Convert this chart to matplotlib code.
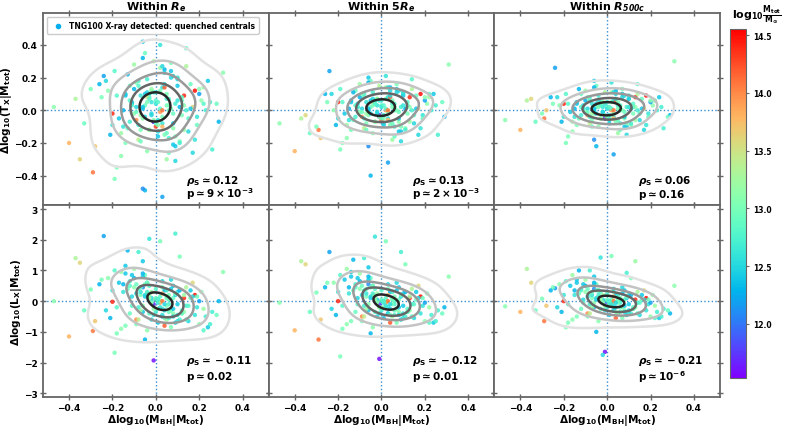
import numpy as np
import matplotlib.pyplot as plt
from matplotlib import colors, cm

plt.rcParams['font.family'] = ['DejaVu Sans']
plt.rcParams['font.weight'] = 'bold'
plt.rcParams['axes.labelweight'] = 'bold'
plt.rcParams['axes.titleweight'] = 'bold'
plt.rcParams['mathtext.fontset'] = 'dejavusans'

# residual of BH mass at fixed total mass (same galaxies in every panel)
dm_bh = [
    -0.47, -0.40, -0.29, -0.37, -0.28, -0.24, -0.22, -0.20, -0.30, -0.33,
    0.31, 0.29, 0.13, 0.18, 0.03, -0.05, -0.06, -0.19, -0.01, 0.22,
    -0.15, -0.12, -0.10, -0.17, -0.14, -0.11, -0.18, -0.16, -0.13, -0.09,
    -0.08, -0.07, -0.06, -0.05, -0.04, -0.03, -0.02, -0.01, 0.00, 0.01,
    0.02, 0.03, 0.04, 0.05, 0.06, 0.07, 0.08, 0.09, 0.10, 0.11,
    0.12, 0.14, 0.15, 0.16, 0.19, 0.21, 0.24, 0.26, 0.17, 0.20,
    -0.09, -0.06, -0.03, 0.00, 0.03, 0.06, 0.09, -0.05, 0.02, 0.05,
    -0.07, -0.04, -0.01, 0.02, 0.04, 0.07, -0.02, 0.01, 0.08, -0.10,
    -0.12, -0.08, 0.10, 0.12, -0.14, 0.14, -0.03, 0.04, 0.00, 0.06,
    -0.05, 0.03, -0.08, 0.08, -0.02, 0.05, -0.06, 0.07, 0.01, -0.04,
    0.11, -0.11, 0.13, -0.13, 0.09, -0.09, 0.15, -0.15, 0.02, -0.01,
    0.00, 0.04, -0.04, 0.06, -0.06, 0.03, -0.03, 0.10, -0.10, 0.01,
    -0.21, -0.25, 0.18, 0.22, -0.19, 0.16, -0.16, 0.19, -0.23, 0.25,
    0.05, -0.07, 0.08, -0.02, 0.12, -0.12, 0.03, -0.05, 0.07, -0.08,
    0.02, -0.03, 0.06, -0.06, 0.09, 0.00, -0.09, 0.04, 0.11, -0.01,
    -0.35, -0.26, 0.28, -0.18, 0.17, 0.14, -0.14, 0.20, -0.20, 0.23,
    0.01, -0.02, 0.05, -0.04, 0.08, -0.07, 0.10, 0.13, -0.11, 0.03,
]

# log10 Mtot / Msun
log_mtot = [
    13.1, 13.8, 14.1, 13.3, 13.7, 12.2, 13.1, 14.4, 13.0, 12.9,
    13.1, 12.3, 14.4, 14.5, 12.2, 12.3, 12.1, 13.0, 11.6, 12.8,
    12.6, 12.9, 13.2, 12.4, 13.0, 12.5, 12.8, 13.2, 12.3, 14.0,
    12.7, 13.0, 12.4, 12.9, 13.1, 12.6, 12.5, 13.3, 12.8, 12.4,
    13.0, 12.6, 12.3, 13.2, 12.9, 12.5, 13.1, 12.7, 12.4, 13.0,
    12.8, 13.3, 12.5, 12.9, 12.6, 13.1, 12.4, 12.7, 13.6, 12.2,
    12.5, 13.1, 12.8, 14.3, 12.6, 13.0, 12.4, 12.9, 13.9, 12.7,
    13.2, 12.5, 11.7, 12.8, 13.0, 12.4, 12.6, 13.1, 12.9, 12.3,
    12.8, 13.4, 12.5, 13.0, 12.4, 12.7, 13.1, 14.2, 12.6, 12.9,
    12.4, 13.0, 12.7, 12.5, 13.2, 12.9, 12.3, 13.0, 12.6, 13.5,
    12.7, 12.4, 13.1, 12.9, 12.5, 13.0, 12.8, 12.3, 13.2, 12.6,
    12.9, 12.5, 13.0, 12.7, 12.4, 13.8, 12.8, 12.6, 13.1, 12.5,
    12.3, 13.0, 12.6, 13.2, 12.8, 12.4, 13.1, 12.9, 12.5, 12.7,
    13.0, 12.6, 12.4, 13.1, 12.9, 12.7, 14.1, 12.5, 13.0, 12.8,
    12.6, 13.2, 12.8, 12.4, 13.0, 12.7, 12.9, 12.5, 12.3, 13.1,
    13.6, 12.3, 12.9, 13.0, 12.5, 12.8, 12.4, 13.1, 12.6, 12.7,
    12.8, 12.5, 13.0, 12.7, 12.4, 12.9, 12.6, 13.2, 12.8, 12.5,
]

# residual of T_X at fixed Mtot
dtx_re = [
    0.02, -0.20, -0.38, 0.07, -0.22, 0.21, 0.12, -0.02, 0.13, -0.08,
    0.23, -0.07, 0.09, 0.12, -0.53, -0.49, -0.48, -0.42, -0.07, 0.04,
    -0.10, 0.15, 0.28, -0.05, -0.20, 0.05, 0.09, -0.14, 0.22, -0.06,
    0.18, -0.12, 0.42, 0.03, -0.25, 0.10, -0.02, 0.30, 0.06, -0.16,
    0.12, -0.08, 0.25, -0.30, 0.00, 0.20, -0.11, 0.04, 0.15, -0.19,
    0.08, 0.27, -0.13, 0.16, -0.04, 0.06, 0.18, -0.24, 0.02, 0.10,
    0.02, -0.05, 0.08, -0.10, 0.14, 0.03, -0.22, 0.35, -0.01, 0.07,
    -0.03, 0.11, -0.07, 0.01, -0.15, 0.24, 0.05, -0.09, -0.02, 0.13,
    0.06, -0.18, 0.19, -0.03, 0.09, 0.00, -0.12, 0.14, 0.04, -0.26,
    0.10, -0.04, -0.09, 0.21, 0.13, -0.14, 0.32, 0.01, -0.06, 0.08,
    -0.20, 0.04, 0.03, -0.11, -0.31, 0.17, -0.05, 0.00, 0.26, 0.11,
    -0.08, 0.16, 0.05, -0.17, 0.02, -0.10, 0.07, 0.20, -0.02, -0.13,
    -0.15, 0.08, -0.18, 0.14, 0.24, 0.01, -0.28, -0.09, 0.18, 0.05,
    0.03, 0.09, -0.21, 0.12, 0.06, -0.07, 0.00, -0.04, 0.29, 0.15,
    0.40, -0.12, 0.07, 0.01, -0.16, 0.11, -0.01, 0.23, 0.02, -0.06,
    -0.30, 0.16, 0.04, -0.35, -0.26, 0.38, 0.10, 0.13, -0.09, 0.00,
    0.05, -0.03, 0.10, 0.19, -0.08, -0.19, 0.06, -0.12, 0.03, 0.27,
]
dtx_5re = [
    -0.08, -0.25, -0.12, -0.05, -0.17, 0.24, 0.00, 0.05, -0.10, -0.14,
    0.28, -0.04, 0.08, 0.10, -0.32, -0.40, -0.22, -0.24, -0.03, 0.10,
    -0.06, 0.12, 0.16, -0.02, -0.12, 0.04, 0.05, -0.09, 0.11, -0.04,
    0.10, -0.08, 0.20, 0.02, -0.14, 0.06, -0.01, 0.15, 0.03, -0.09,
    0.07, -0.05, 0.14, -0.18, 0.00, 0.11, -0.07, 0.02, 0.09, -0.11,
    0.05, 0.13, -0.08, 0.09, -0.03, 0.04, 0.10, -0.15, 0.01, 0.06,
    0.01, -0.03, 0.05, -0.06, 0.08, 0.02, -0.13, 0.18, 0.00, 0.04,
    -0.02, 0.07, -0.04, 0.01, -0.09, 0.13, 0.03, -0.05, -0.01, 0.08,
    0.03, -0.11, 0.10, -0.02, 0.05, 0.00, -0.07, 0.08, 0.02, -0.16,
    0.06, -0.02, -0.05, 0.12, 0.07, -0.08, 0.17, 0.00, -0.03, 0.05,
    -0.12, 0.02, 0.02, -0.06, -0.19, 0.10, -0.03, 0.01, 0.14, 0.06,
    -0.05, 0.09, 0.03, -0.10, 0.01, -0.06, 0.04, 0.11, -0.01, -0.08,
    -0.09, 0.05, -0.11, 0.08, 0.13, 0.01, -0.17, -0.05, 0.10, 0.03,
    0.02, 0.05, -0.13, 0.07, 0.03, -0.04, 0.00, -0.02, 0.16, 0.08,
    0.21, -0.07, 0.04, 0.00, -0.10, 0.06, -0.01, 0.12, 0.01, -0.04,
    -0.03, 0.10, 0.05, -0.20, -0.15, 0.19, 0.06, 0.08, -0.05, 0.00,
    0.03, -0.02, 0.06, 0.11, -0.05, -0.12, 0.03, -0.07, 0.02, 0.14,
]
dtx_r500 = [
    -0.06, -0.12, -0.05, 0.06, 0.00, 0.26, 0.03, 0.04, -0.02, -0.07,
    0.30, -0.03, 0.08, 0.09, -0.27, -0.22, -0.18, -0.20, -0.05, 0.06,
    -0.04, 0.10, 0.12, -0.01, -0.09, 0.03, 0.04, -0.07, 0.13, -0.03,
    0.08, -0.06, 0.18, 0.02, -0.10, 0.05, -0.01, 0.11, 0.02, -0.08,
    0.05, -0.04, 0.12, -0.14, 0.00, 0.08, -0.05, 0.02, 0.07, -0.09,
    0.04, 0.10, -0.06, 0.07, -0.02, 0.03, 0.08, -0.11, 0.01, 0.05,
    0.01, -0.02, 0.04, -0.04, 0.06, 0.02, -0.10, 0.15, 0.00, 0.03,
    -0.02, 0.05, -0.03, 0.01, -0.07, 0.10, 0.02, -0.04, -0.01, 0.06,
    0.02, -0.08, 0.07, -0.02, 0.04, 0.00, -0.05, 0.06, 0.01, -0.12,
    0.04, -0.02, -0.04, 0.09, 0.05, -0.06, 0.14, 0.00, -0.03, 0.04,
    -0.08, 0.01, 0.02, -0.05, -0.15, 0.08, -0.02, 0.01, 0.11, 0.04,
    -0.04, 0.07, 0.02, -0.08, 0.01, -0.05, 0.03, 0.09, -0.01, -0.06,
    -0.07, 0.04, -0.09, 0.06, 0.10, 0.01, -0.13, -0.04, 0.08, 0.02,
    0.01, 0.04, -0.10, 0.05, 0.02, -0.03, 0.00, -0.02, 0.13, 0.06,
    0.17, -0.05, 0.03, 0.00, -0.08, 0.05, -0.01, 0.10, 0.01, -0.03,
    0.07, 0.08, -0.04, -0.16, -0.12, 0.16, 0.05, 0.06, -0.04, 0.00,
    0.02, -0.01, 0.05, 0.09, -0.04, -0.10, 0.02, -0.06, 0.01, 0.11,
]

# residual of L_X at fixed Mtot
dlx_re = [
    0.00, -1.15, -0.97, 1.40, -0.65, 2.12, 0.75, -0.02, 0.38, -0.30,
    0.95, 0.00, 0.10, 0.20, -0.50, -1.25, 0.45, -1.68, -1.93, -0.95,
    0.30, -0.40, 1.05, 0.60, -0.80, 0.15, -0.20, 0.95, 1.65, -0.60,
    1.60, 0.20, -0.35, 0.55, -0.95, 2.03, 0.10, -0.15, 0.40, -0.70,
    1.95, -0.25, 0.35, -0.60, 0.05, 0.70, -0.40, 2.20, -0.10, 1.45,
    -0.30, 0.45, -0.65, 0.10, -0.20, 0.30, -0.85, -0.35, 0.60, 0.00,
    0.25, -0.15, 0.50, 0.05, -0.45, 0.20, -0.70, 0.85, -0.05, 0.35,
    -0.30, 0.60, -0.10, 0.15, -0.55, 0.40, 0.00, -0.25, 0.10, 0.75,
    0.50, -0.60, 0.30, -0.40, 1.15, -0.15, 0.20, -0.80, 0.05, -0.35,
    0.15, 0.45, -0.20, -0.50, 0.30, 0.10, 0.90, -0.30, -0.05, 0.25,
    -0.60, 0.85, -0.35, 0.40, 0.20, -0.75, -0.15, 0.55, 0.00, -0.45,
    0.10, -0.30, 0.60, -0.10, 1.30, 0.25, -0.40, -0.65, 0.45, 0.05,
    -0.55, 0.70, -0.45, -0.25, 1.00, 0.35, -0.90, 0.15, -0.30, -0.75,
    -0.15, 0.30, 0.50, -0.05, -0.40, 0.65, 0.00, 0.20, -0.85, 0.40,
    -0.20, 0.10, -0.55, 0.80, 0.25, -0.35, 0.55, -0.10, 0.35, -0.25,
    1.25, 0.55, -0.45, -1.05, 0.15, -0.60, 0.90, -0.75, 0.35, -0.50,
    0.05, -0.60, 0.15, 0.30, -0.25, 0.45, -0.45, 0.20, -0.15, 0.65,
]
dlx_5re = [
    -0.05, -0.95, -1.25, 1.30, -0.60, 1.60, 0.60, 0.00, 0.28, -0.35,
    0.80, -0.20, 0.10, 0.15, -0.40, -1.05, 0.55, -1.80, -1.88, -0.70,
    0.25, -0.35, 0.90, 0.70, -0.65, 0.10, -0.15, 1.05, 1.35, -0.50,
    1.40, 0.15, -0.30, 0.45, -0.85, 2.10, 0.05, -0.20, 0.35, -0.55,
    1.95, -0.20, 0.30, -0.50, 0.00, 0.60, -0.35, 1.60, -0.15, 1.20,
    -0.25, 0.40, -0.55, 0.05, -0.15, 0.25, -0.70, -0.30, 0.50, -0.05,
    0.20, -0.10, 0.40, 0.00, -0.40, 0.15, -0.60, 0.75, -0.05, 0.30,
    -0.25, 0.50, -0.10, 0.10, -0.45, 0.35, 0.00, -0.20, 0.05, 0.65,
    0.45, -0.50, 0.25, -0.35, 0.95, -0.10, 0.15, -0.70, 0.00, -0.30,
    0.10, 0.40, -0.15, -0.45, 0.25, 0.05, 0.80, -0.25, -0.05, 0.20,
    -0.50, 0.75, -0.30, 0.35, 0.15, -0.65, -0.10, 0.45, 0.00, -0.40,
    0.05, -0.25, 0.50, -0.10, 1.10, 0.20, -0.35, -0.55, 0.40, 0.00,
    -0.45, 0.60, -0.40, -0.20, 0.85, 0.30, -0.75, 0.10, -0.25, -0.65,
    -0.10, 0.25, 0.45, -0.05, -0.35, 0.55, 0.00, 0.15, -0.70, 0.35,
    -0.15, 0.05, -0.45, 0.70, 0.20, -0.30, 0.50, -0.10, 0.30, -0.20,
    1.20, 0.45, -0.40, -0.90, 0.10, -0.50, 0.80, -0.65, 0.30, -0.45,
    0.00, -0.50, 0.10, 0.25, -0.20, 0.40, -0.40, 0.15, -0.10, 0.55,
]
dlx_r500 = [
    -0.17, -0.35, -0.65, 1.05, -0.15, 0.42, 0.55, 0.00, 0.08, -0.30,
    0.50, -0.40, 0.05, 0.10, -0.30, -1.00, 0.40, -0.85, -1.65, -0.55,
    0.20, -0.25, 0.70, 0.50, -0.50, 0.05, -0.10, 0.85, 1.00, -0.40,
    1.00, 0.10, -0.20, 0.35, -0.65, 1.42, 0.05, -0.15, 0.25, -0.45,
    1.47, -0.15, 0.20, -0.40, 0.00, 0.45, -0.30, 0.92, -0.10, 0.75,
    -0.20, 0.30, -0.45, 0.05, -0.10, 0.20, -0.55, -0.25, 0.35, -0.05,
    0.15, -0.05, 0.30, 0.00, -0.30, 0.10, -0.45, 0.55, -0.05, 0.20,
    -0.20, 0.35, -0.05, 0.05, -0.35, 0.25, 0.00, -0.15, 0.05, 0.50,
    0.35, -0.40, 0.20, -0.25, 0.70, -0.05, 0.10, -0.55, 0.00, -0.20,
    0.05, 0.30, -0.10, -0.35, 0.20, 0.05, 0.60, -0.20, -0.05, 0.15,
    -0.40, 0.55, -0.20, 0.25, 0.10, -0.50, -0.05, 0.35, 0.00, -0.30,
    0.05, -0.20, 0.35, -0.05, 0.80, 0.15, -0.25, -0.40, 0.30, 0.00,
    -0.35, 0.45, -0.30, -0.15, 0.65, 0.20, -0.60, 0.05, -0.20, -0.50,
    -0.05, 0.20, 0.35, -0.05, -0.25, 0.40, 0.00, 0.10, -0.55, 0.25,
    -0.10, 0.05, -0.35, 0.55, 0.15, -0.20, 0.40, -0.05, 0.20, -0.15,
    0.60, 0.35, -0.30, -0.70, 0.05, -0.40, 0.60, -0.50, 0.20, -0.35,
    0.00, -1.75, 0.10, 0.20, -0.15, 0.30, -0.30, 1.30, -0.05, 0.40,
]

titles = [r'Within $\mathbfit{R}_{\mathbfit{e}}$',
          r'Within 5$\mathbfit{R}_{\mathbfit{e}}$',
          r'Within $\mathbfit{R}_{\mathbfit{500c}}$']
rho_text = [['0.12', '0.13', '0.06'], ['-0.11', '-0.12', '-0.21']]
p_text = [[r'9\times10^{-3}', r'2\times10^{-3}', '0.16'],
          ['0.02', '0.01', r'10^{-6}']]
ylabels = [r'$\mathbf{\Delta log_{10}(T_X|M_{tot})}$',
           r'$\mathbf{\Delta log_{10}(L_X|M_{tot})}$']
xlabel = r'$\mathbf{\Delta log_{10}(M_{BH}|M_{tot})}$'


def kde_grid(x, y, gx, gy, factor=1.25):
    data = np.vstack([x, y])
    n = data.shape[1]
    bw = n ** (-1.0 / 6) * factor
    inv = np.linalg.inv(np.cov(data) * bw ** 2)

    def evaluate(px, py):
        dx = px[:, None] - data[0][None, :]
        dy = py[:, None] - data[1][None, :]
        q = inv[0, 0] * dx ** 2 + 2 * inv[0, 1] * dx * dy + inv[1, 1] * dy ** 2
        return np.exp(-0.5 * q).sum(axis=1)

    zz = evaluate(gx.ravel(), gy.ravel()).reshape(gx.shape)
    zpts = evaluate(data[0], data[1])
    return zz, zpts


x = np.array(dm_bh)
mtot = np.array(log_mtot)
ydata = [[dtx_re, dtx_5re, dtx_r500], [dlx_re, dlx_5re, dlx_r500]]
ylims = [(-0.58, 0.595), (-3.12, 3.13)]
yticks = [[-0.4, -0.2, 0.0, 0.2, 0.4], [-3, -2, -1, 0, 1, 2, 3]]

cmap = plt.get_cmap('rainbow')
norm = colors.Normalize(vmin=11.53, vmax=14.55)
contour_colors = ['#e2e2e2', '#c4c4c4', '#999999', '#666666', '#262626']

fig = plt.figure(figsize=(7.89, 4.27), dpi=100)
axes = fig.subplots(2, 3, sharex=True, sharey='row')
fig.subplots_adjust(left=0.0545, right=0.9125, top=0.967, bottom=0.068,
                    wspace=0, hspace=0)

for row in range(2):
    for col in range(3):
        ax = axes[row, col]
        y = np.array(ydata[row][col])
        ax.scatter(x, y, c=mtot, cmap=cmap, norm=norm, s=10, lw=0,
                   alpha=0.85, zorder=2)
        ax.axhline(0, color='#3a8fd0', ls=':', lw=1.0, zorder=1)
        ax.axvline(0, color='#3a8fd0', ls=':', lw=1.0, zorder=1)

        gx, gy = np.meshgrid(np.linspace(-0.52, 0.52, 130),
                             np.linspace(ylims[row][0], ylims[row][1], 130))
        zz, zpts = kde_grid(x, y, gx, gy)
        levels = np.percentile(zpts, [8, 25, 45, 65, 85])
        ax.contour(gx, gy, zz, levels=levels, colors=contour_colors,
                   linewidths=1.8, zorder=3)

        ax.set_xlim(-0.52, 0.52)
        ax.set_ylim(*ylims[row])
        ax.set_xticks([-0.4, -0.2, 0.0, 0.2, 0.4])
        ax.set_yticks(yticks[row])
        ax.tick_params(direction='inout', length=5, width=1, top=True,
                       right=True, labelsize=6.5, color='#666666', pad=1.5)
        for s in ax.spines.values():
            s.set_color('#666666')
            s.set_linewidth(1.3)

        ty = [(0.13, 0.06), (0.195, 0.11)][row]
        ax.text(0.635, ty[0], r'$\mathbfit{\rho}_{\mathbf{S}}\mathbf{\simeq' + rho_text[row][col] + '}$',
                transform=ax.transAxes, fontsize=7.5, va='center', zorder=5)
        ax.text(0.635, ty[1], r'$\mathbf{p \simeq ' + p_text[row][col] + '}$',
                transform=ax.transAxes, fontsize=7.5, va='center', zorder=5)

        if row == 0:
            ax.set_title(titles[col], fontsize=8, pad=2)
        else:
            ax.set_xlabel(xlabel, fontsize=7.6, labelpad=0)
        if col == 0:
            ax.set_ylabel(ylabels[row], fontsize=7.6, labelpad=0)

proxy = axes[0, 0].scatter([], [], s=9, color=cmap(norm(12.25)),
                           label='TNG100 X-ray detected: quenched centrals')
axes[0, 0].legend(handles=[proxy], loc='upper left',
                  prop={'weight': 'bold', 'size': 5.5}, handletextpad=0.4,
                  borderpad=0.5, framealpha=1, edgecolor='#cccccc')

cax = fig.add_axes([0.925, 0.112, 0.0203, 0.817])
cb = fig.colorbar(cm.ScalarMappable(norm=norm, cmap=cmap), cax=cax)
cb.set_ticks([12.0, 12.5, 13.0, 13.5, 14.0, 14.5])
cax.tick_params(labelsize=5.5, length=2, color='#666666')
cb.outline.set_edgecolor('#666666')
cax.text(0.15, 1.01, r'$\mathbf{log_{10}\frac{M_{tot}}{M_{\odot}}}$',
         transform=cax.transAxes, fontsize=8, ha='left', va='bottom')

fig.savefig('out.png', dpi=100)
